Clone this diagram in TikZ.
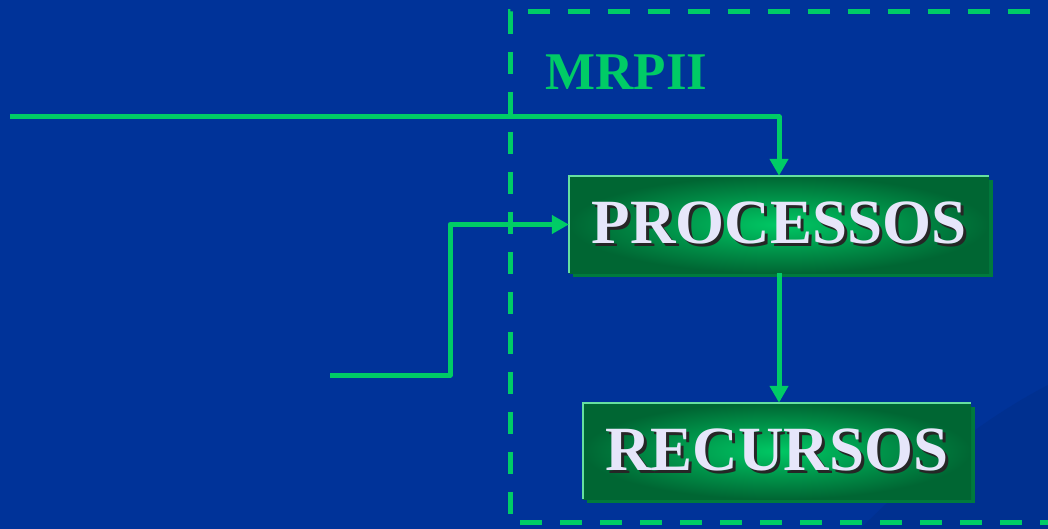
\documentclass[tikz,border=0pt]{standalone}
\usepackage{fontspec}
\setmainfont{Liberation Serif}
\usetikzlibrary{arrows.meta,shadows}
\definecolor{mrpbg}{HTML}{003399}
\definecolor{mrpbgdark}{HTML}{003090}
\definecolor{mrpgreen}{HTML}{00CC66}
\definecolor{mrpedge}{HTML}{66E0A0}
\definecolor{mrpdark}{HTML}{006633}
\definecolor{mrpmid}{HTML}{00C864}
\definecolor{mrpshadow}{HTML}{007A3D}
\definecolor{mrptext}{HTML}{E6E6FA}

\newcommand{\boxlabel}[1]{\rlap{\kern3pt\raisebox{-3pt}{\color{black!85}#1}}{\color{mrptext}#1}}

\tikzset{
  flow/.style={draw=mrpgreen, line width=5pt, line join=round,
    -{Triangle[length=17pt,width=18pt]}},
  stage/.style={rectangle, inner sep=0pt, outer color=mrpdark, inner color=mrpmid,
    general shadow={shadow xshift=4pt, shadow yshift=-4pt, fill=mrpshadow},
    font=\fontsize{63}{70}\selectfont\bfseries},
  edge/.style={draw=mrpedge, line width=2pt}
}

\begin{document}
\begin{tikzpicture}[x=1pt, y=-1pt]
  \useasboundingbox (0,0) rectangle (1048,529);
  \fill[mrpbg] (0,0) rectangle (1048,529);
  \fill[mrpbgdark] (860,529) .. controls (940,450) and (1000,410) .. (1048,385) -- (1048,529) -- cycle;

  % MRPII frame
  \draw[mrpgreen, line width=5pt, dash pattern=on 22pt off 18pt]
    (1070,12) -- (510,12) -- (510,522) -- (1070,522);
  \node[anchor=west, text=mrpgreen, font=\fontsize{53}{58}\selectfont\bfseries] (mrp) at (542,72) {MRPII};

  % stages
  \node[stage, minimum width=420pt, minimum height=97pt] (proc) at (779,224.5) {\boxlabel{PROCESSOS}};
  \node[stage, minimum width=388pt, minimum height=96pt] (recur) at (777,451) {\boxlabel{RECURSOS}};
  \draw[edge] (proc.south west) |- (proc.north east);
  \draw[edge] (recur.south west) |- (recur.north east);

  % inputs
  \coordinate (topin) at (10,117);
  \coordinate (leftin) at (330,375);
  \draw[flow] (topin) -| (proc.north);
  \draw[flow] (leftin) -- ++(120,0) |- (proc.west);
  \draw[flow] (proc.south) -- (proc.south |- recur.north);
\end{tikzpicture}
\end{document}
